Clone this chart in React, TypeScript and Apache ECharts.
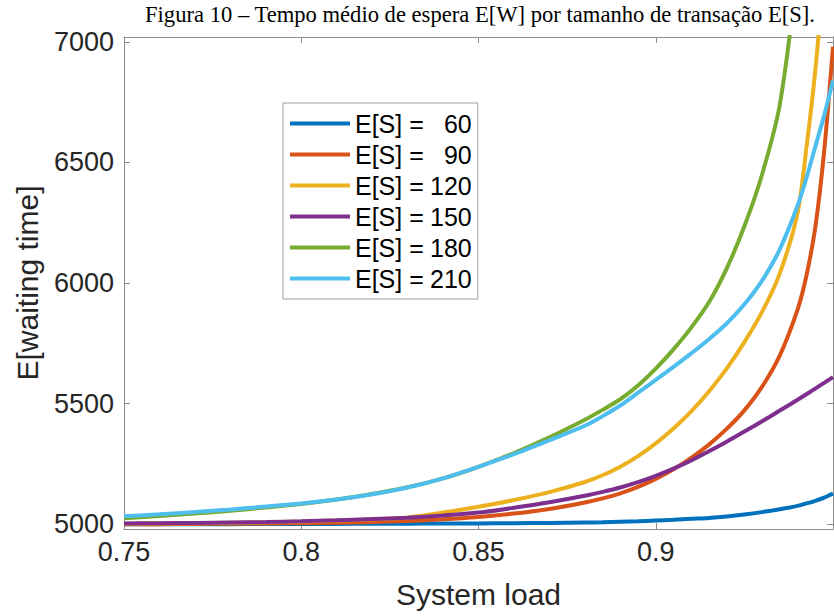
import React, { useEffect, useRef } from 'react';
import * as echarts from 'echarts';

const LOAD = [0.75, 0.76, 0.77, 0.78, 0.79, 0.8, 0.81, 0.82, 0.83, 0.84, 0.85, 0.86, 0.87, 0.88, 0.885, 0.89, 0.895, 0.9, 0.905, 0.91, 0.915, 0.92, 0.925, 0.93, 0.935, 0.94, 0.9425, 0.945, 0.9475, 0.95];

const ES60 = [5000, 5000, 5000, 5000, 5001, 5001, 5001, 5002, 5002, 5003, 5003, 5004, 5005, 5007, 5008, 5010, 5012, 5015, 5018, 5022, 5026, 5032, 5040, 5050, 5062, 5076, 5086, 5097, 5110, 5127];
const ES90 = [5000, 5000, 5001, 5002, 5003, 5004, 5006, 5009, 5013, 5020, 5030, 5044, 5063, 5090, 5107, 5128, 5155, 5188, 5228, 5275, 5330, 5395, 5472, 5570, 5700, 5890, 6030, 6230, 6545, 6980];
const ES120 = [5002, 5003, 5004, 5006, 5008, 5011, 5015, 5020, 5028, 5048, 5072, 5100, 5133, 5175, 5203, 5238, 5282, 5335, 5397, 5468, 5550, 5645, 5755, 5880, 6040, 6290, 6560, 6880, 7300, null];
const ES150 = [5003, 5004, 5005, 5007, 5009, 5012, 5016, 5021, 5027, 5036, 5048, 5068, 5091, 5118, 5134, 5152, 5174, 5200, 5230, 5264, 5302, 5342, 5384, 5427, 5471, 5516, 5539, 5562, 5586, 5610];
const ES180 = [5025, 5034, 5044, 5056, 5069, 5084, 5102, 5125, 5153, 5190, 5238, 5295, 5360, 5433, 5474, 5518, 5575, 5645, 5725, 5815, 5920, 6060, 6235, 6450, 6740, 7300, null, null, null, null];
const ES210 = [5033, 5041, 5050, 5061, 5073, 5086, 5102, 5124, 5152, 5190, 5238, 5290, 5348, 5408, 5448, 5492, 5545, 5598, 5652, 5708, 5767, 5832, 5912, 6010, 6140, 6320, 6435, 6565, 6695, 6840];

const SIZES = [60, 90, 120, 150, 180, 210];
const SERIES_VALUES = [ES60, ES90, ES120, ES150, ES180, ES210];
const COLORS = ['#0072BD', '#D95319', '#EDB120', '#7E2F8E', '#77AC30', '#4DBEEE'];

const Y_TICKS = [5000, 5500, 6000, 6500, 7000];

const TITLE = 'Figura 10 – Tempo médio de espera E[W] por tamanho de transação E[S].';

const AXIS_GRAY = '#8c8c8c';
const TEXT_DARK = '#262626';
const SANS = '"Liberation Sans", Arial, sans-serif';

export default function App() {
  const ref = useRef<HTMLDivElement>(null);

  useEffect(() => {
    const chart = echarts.init(ref.current!, null, { renderer: 'svg' });

    const series = SIZES.map((s, i) => ({
      name: `E[S] = ${s}`,
      type: 'line',
      data: LOAD.map((x, j) => [x, SERIES_VALUES[i][j]]),
      showSymbol: false,
      smooth: 0.3,
      clip: true,
      connectNulls: false,
      lineStyle: { color: COLORS[i], width: 4 },
      itemStyle: { color: COLORS[i] },
    }));

    const xCommon = {
      type: 'value',
      min: 0.75,
      max: 0.95,
      interval: 0.05,
      splitLine: { show: false },
      axisLine: { show: true, onZero: false, lineStyle: { color: AXIS_GRAY, width: 1 } },
      axisTick: { show: true, inside: true, length: 6, lineStyle: { color: AXIS_GRAY } },
    };
    const yCommon = {
      type: 'value',
      min: 4980,
      max: 7020,
      splitLine: { show: false },
      axisLine: { show: true, onZero: false, lineStyle: { color: AXIS_GRAY, width: 1 } },
      axisTick: { show: true, inside: true, length: 6, customValues: Y_TICKS, lineStyle: { color: AXIS_GRAY } },
    };

    const option = {
      animation: false,
      backgroundColor: '#fff',
      graphic: [
        {
          type: 'text',
          left: 145,
          top: 3,
          style: {
            text: TITLE,
            fontSize: 22.6,
            fontFamily: '"Liberation Serif", "Times New Roman", serif',
            fill: '#000',
          },
        },
      ],
      grid: { left: 124, right: 1, top: 37, bottom: 87, containLabel: false, show: false },
      legend: {
        orient: 'vertical',
        left: 283,
        top: 103,
        padding: [8, 6, 8, 7],
        itemGap: 6,
        itemWidth: 60,
        itemHeight: 4,
        icon: 'rect',
        selectedMode: false,
        backgroundColor: '#fff',
        borderColor: '#a0a0a0',
        borderWidth: 1,
        data: SIZES.map((s) => `E[S] = ${s}`),
        formatter: (name: string) => {
          const v = name.split('= ')[1];
          return `{a|E[S] =}{n|${v}}`;
        },
        textStyle: {
          color: '#000',
          fontFamily: SANS,
          fontSize: 25,
          lineHeight: 24,
          rich: {
            a: { fontSize: 25, lineHeight: 24, color: '#000', fontFamily: SANS },
            n: { fontSize: 25, lineHeight: 24, width: 48, align: 'right', color: '#000', fontFamily: SANS },
          },
        },
      },
      xAxis: [
        {
          ...xCommon,
          position: 'bottom',
          name: 'System load',
          nameLocation: 'middle',
          nameGap: 50,
          nameTextStyle: { fontSize: 30, color: TEXT_DARK, fontFamily: SANS },
          axisLabel: {
            show: true,
            showMaxLabel: false,
            margin: 9,
            fontSize: 27,
            color: TEXT_DARK,
            fontFamily: SANS,
            formatter: (v: number) => String(Number(v.toFixed(2))),
          },
        },
        {
          ...xCommon,
          position: 'top',
          axisLabel: { show: false },
        },
      ],
      yAxis: [
        {
          ...yCommon,
          position: 'left',
          name: 'E[waiting time]',
          nameLocation: 'middle',
          nameRotate: 90,
          nameGap: 82,
          nameTextStyle: { fontSize: 30, color: TEXT_DARK, fontFamily: SANS },
          axisLabel: {
            show: true,
            customValues: Y_TICKS,
            margin: 10,
            fontSize: 27,
            color: TEXT_DARK,
            fontFamily: SANS,
            formatter: (v: number) => String(v),
          },
        },
        {
          ...yCommon,
          position: 'right',
          axisLabel: { show: false },
        },
      ],
      series,
    };

    chart.setOption(option as any);
    return () => chart.dispose();
  }, []);

  return (
    <div
      ref={ref}
      style={{ position: 'absolute', left: 0, top: 0, width: 834, height: 616, background: '#fff' }}
    />
  );
}
